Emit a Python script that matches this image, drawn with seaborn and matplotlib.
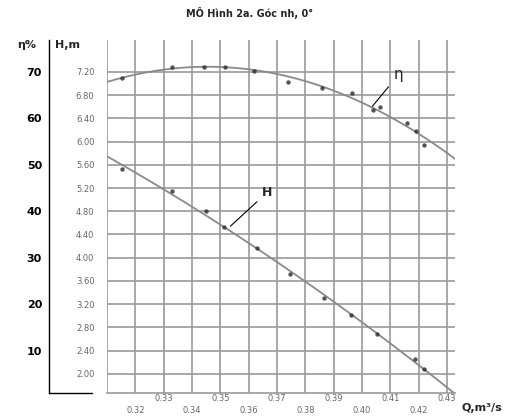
import matplotlib
matplotlib.use("Agg")
import matplotlib.pyplot as plt
import seaborn as sns
import numpy as np
from matplotlib.lines import Line2D

# ---- data ----
q_eta = [0.3153, 0.3330, 0.3443, 0.3517, 0.3619, 0.3740, 0.3860, 0.3966,
         0.4040, 0.4065, 0.4160, 0.4192, 0.4217]
eta = [68.7, 71.1, 71.1, 71.1, 70.2, 67.8, 66.6, 65.5, 61.8, 62.5, 59.0, 57.3, 54.3]

q_H = [0.3153, 0.3330, 0.3450, 0.3513, 0.3630, 0.3747, 0.3867, 0.3962,
       0.4054, 0.4188, 0.4217]
H = [5.53, 5.15, 4.80, 4.53, 4.17, 3.72, 3.30, 3.01, 2.68, 2.25, 2.08]

H_ticks = [2.00, 2.40, 2.80, 3.20, 3.60, 4.00, 4.40, 4.80, 5.20, 5.60, 6.00, 6.40, 6.80, 7.20]
eta_ticks = [10, 20, 30, 40, 50, 60, 70]
q_major = [0.31, 0.33, 0.35, 0.37, 0.39, 0.41, 0.43]
q_minor = [0.32, 0.34, 0.36, 0.38, 0.40, 0.42]

title = "MÔ Hình 2a. Góc nh, 0°"

sns.set_theme(style="white")
plt.rcParams['font.family'] = ['DejaVu Sans']

fig = plt.figure(figsize=(5.07, 4.19), dpi=100)
ax = fig.add_axes([107/507, 1-393/419, (455-107)/507, (393-40)/419])

xlim = (0.31, 0.4328)
Hlim = (1.67, 7.75)
ax.set_xlim(*xlim)
ax.set_ylim(*Hlim)

# eta axis on twin, aligned: eta = 70 + (H-7.2)*12.5
ax2 = ax.twinx()
ax2.set_xlim(*xlim)
ax2.set_ylim(70 + (Hlim[0]-7.2)*12.5, 70 + (Hlim[1]-7.2)*12.5)

line_col = "#8a8a8a"
pt_col = "#2a2a2a"
sns.regplot(x=q_H, y=H, order=2, ci=None, truncate=False, ax=ax,
            scatter_kws=dict(s=10, color=pt_col, zorder=4, linewidths=0),
            line_kws=dict(color=line_col, lw=1.3, zorder=3))
sns.regplot(x=q_eta, y=eta, order=2, ci=None, truncate=False, ax=ax2,
            scatter_kws=dict(s=10, color=pt_col, zorder=4, linewidths=0),
            line_kws=dict(color=line_col, lw=1.3, zorder=3))
ax.set_xlim(*xlim)
ax2.set_xlim(*xlim)

# grid
ax.set_xticks(q_major)
ax.set_xticks(q_minor, minor=True)
ax.set_xticklabels([""] + [f"{v:.2f}" for v in q_major[1:]], fontsize=6, color="#666")
ax.set_xticklabels([f"{v:.2f}" for v in q_minor], minor=True, fontsize=6, color="#666")
ax.tick_params(axis="x", which="major", length=0, pad=1)
ax.tick_params(axis="x", which="minor", length=0, pad=9)
ax.set_yticks(H_ticks)
ax.set_yticklabels([f"{v:.2f}" for v in H_ticks], fontsize=6, color="#666")
ax.tick_params(axis="y", length=0, pad=9)
ax.grid(True, which="both", color="#9a9a9a", lw=1.2)
ax.set_axisbelow(True)
for s in ["top", "right", "left"]:
    ax.spines[s].set_visible(False)
ax.spines["bottom"].set_color("#9a9a9a")
ax.spines["bottom"].set_linewidth(1.2)

# eta axis on the far left
for s in ["top", "right", "bottom"]:
    ax2.spines[s].set_visible(False)
ax2.spines["left"].set_visible(True)
ax2.spines["left"].set_position(("outward", 41.8))
ax2.spines["left"].set_color("black")
ax2.spines["left"].set_linewidth(1.0)
ax2.yaxis.set_ticks_position("left")
ax2.yaxis.set_label_position("left")
ax2.set_yticks(eta_ticks)
ax2.set_yticklabels([str(v) for v in eta_ticks], fontsize=8, fontweight="bold", color="black")
ax2.tick_params(axis="y", length=0, pad=5)
ax2.grid(False)
ax2.set_xlabel("")
ax2.set_ylabel("")
ax.set_xlabel("")
ax.set_ylabel("")

# short black bottom line under labels
fig.add_artist(Line2D([49/507, 92/507], [1-393/419, 1-393/419], color="black", lw=1.0))

# labels
fig.text(17/507, 1-45/419, "η%", fontsize=8, fontweight="bold", ha="left", va="center")
fig.text(55/507, 1-45/419, "H,m", fontsize=8, fontweight="bold", ha="left", va="center")
fig.text(462/507, 1-408/419, "Q,m³/s", fontsize=8, fontweight="bold", ha="left", va="center")
fig.text(250/507, 1-13/419, title, fontsize=7, fontweight="bold", ha="center", va="center")

# curve annotations
ax.annotate("η", xy=(0.4026, 6.545), xytext=(0.4111, 7.15), fontsize=11,
            ha="left", va="center", arrowprops=dict(arrowstyle="-", color="black", lw=0.8))
ax.annotate("H", xy=(0.3528, 4.51), xytext=(0.3648, 5.13), fontsize=9, fontweight="bold",
            ha="left", va="center", arrowprops=dict(arrowstyle="-", color="black", lw=0.8))

fig.savefig("out.png", dpi=100)
